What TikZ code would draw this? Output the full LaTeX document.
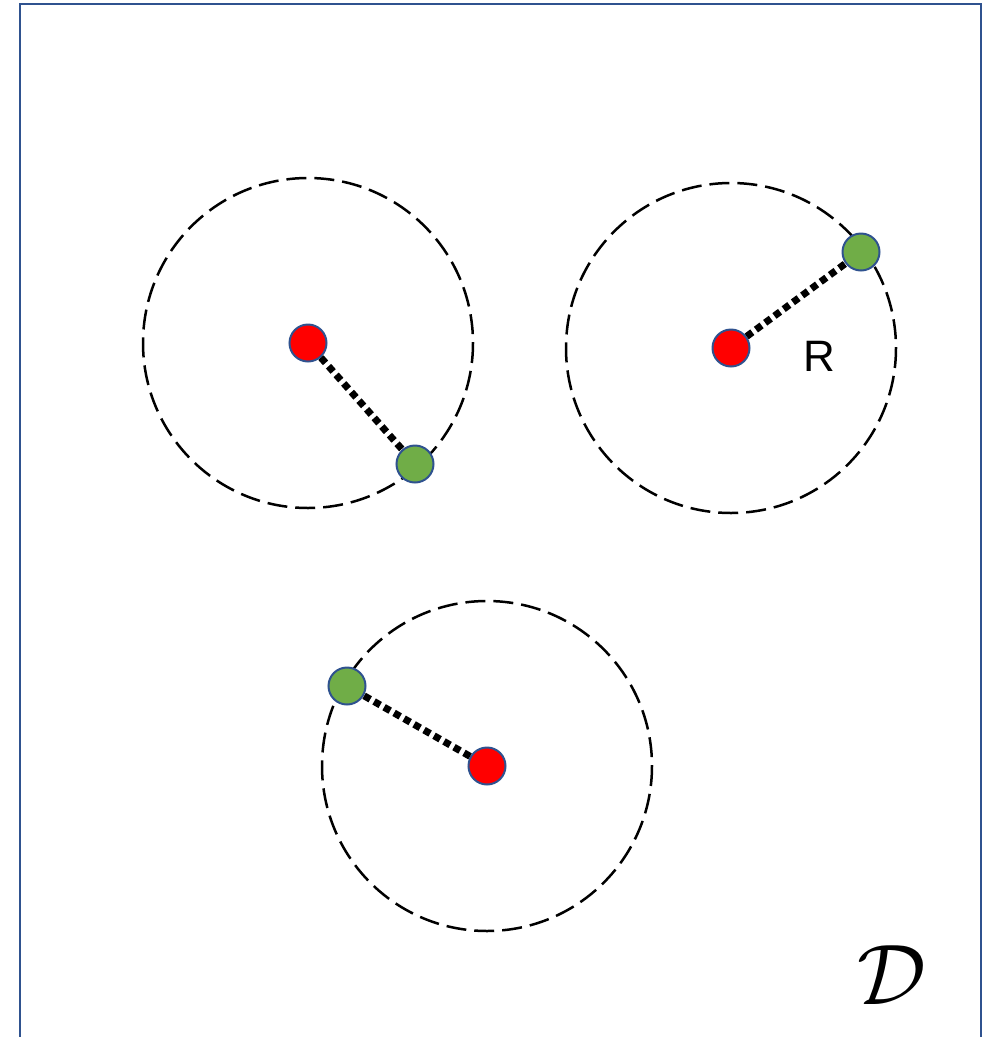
\documentclass[tikz,border=0pt]{standalone}
\usepackage{fontspec}
\setsansfont{Liberation Sans}
\definecolor{frameblue}{RGB}{47,82,143}
\definecolor{dotred}{RGB}{255,0,0}
\definecolor{dotgreen}{RGB}{112,173,71}
\begin{document}
\begin{tikzpicture}[x=1pt,y=-1pt,
  zone/.style={draw=black,line width=2.5pt,dash pattern=on 20pt off 8pt},
  centre/.style={circle,fill=dotred,draw=frameblue,line width=2pt,minimum size=37pt,inner sep=0pt},
  point/.style={circle,fill=dotgreen,draw=frameblue,line width=2pt,minimum size=37pt,inner sep=0pt},
  radius line/.style={draw=black,line width=7pt,dash pattern=on 7pt off 4.5pt}]
\useasboundingbox (0,0) rectangle (994,1037);
\draw[frameblue,line width=2.5pt] (20,1040) -- (20,4) -- (981,4) -- (981,1040);
% circles
\draw[zone] (308,343) circle (165);
\draw[zone] (731,348) circle (165);
\draw[zone] (487,766) circle (165);
% nodes
\node[centre] (c1) at (308,343) {};
\node[point] (p1) at (415,464) {};
\node[centre] (c2) at (731,348) {};
\node[point] (p2) at (861,252) {};
\node[centre] (c3) at (487,766) {};
\node[point] (p3) at (347,686) {};
\path[radius line] (c1) -- (p1);
\path[radius line] (c2) -- (p2);
\path[radius line] (c3) -- (p3);
\node (R) at (819,356) {\fontsize{44}{50}\selectfont\sffamily R};
\node[scale=8.6] (D) at (892,975) {$\mathcal{D}$};
\end{tikzpicture}
\end{document}
